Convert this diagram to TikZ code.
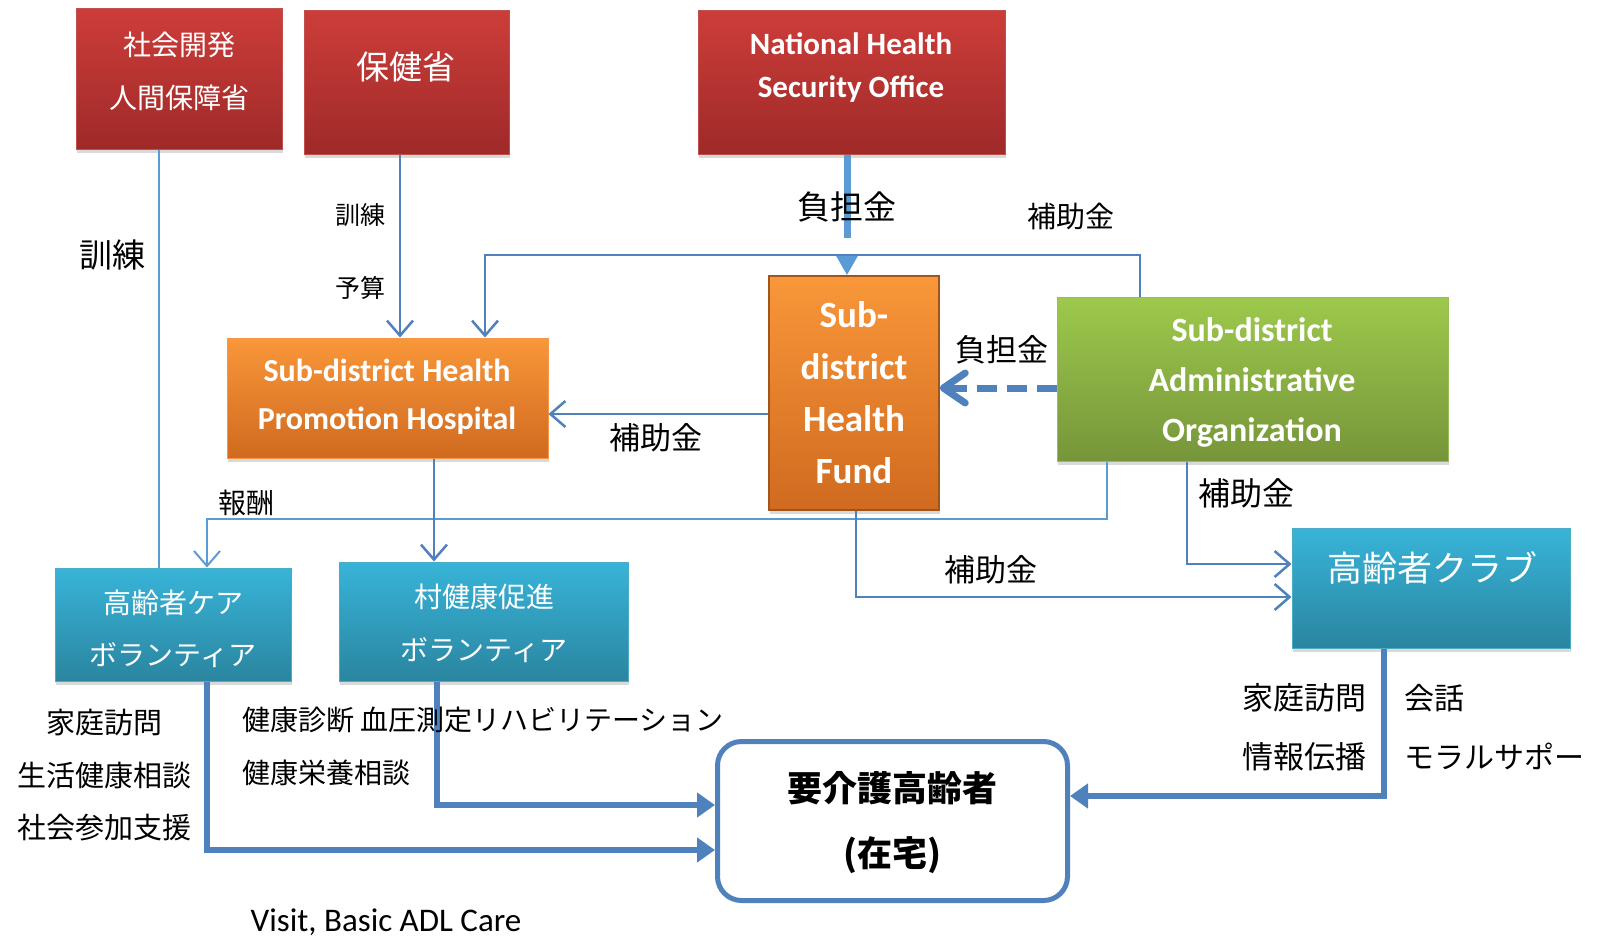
\documentclass[tikz,border=0pt]{standalone}
\usepackage{fontspec}
\setmainfont{Carlito}
\newfontfamily\jp{Noto Sans CJK JP}
\usetikzlibrary{positioning}
\usetikzlibrary{arrows.meta}
\usetikzlibrary{shadows}
\usepackage{xcolor}
\definecolor{redtop}{HTML}{CD3D3A}
\definecolor{redbot}{HTML}{9E2A28}
\definecolor{redline}{HTML}{C0504D}
\definecolor{orgtop}{HTML}{F9973A}
\definecolor{orgbot}{HTML}{D06A1F}
\definecolor{orgline}{HTML}{F79646}
\definecolor{fundline}{HTML}{A0561B}
\definecolor{grntop}{HTML}{9DC94C}
\definecolor{grnbot}{HTML}{76953A}
\definecolor{grnline}{HTML}{9BBB59}
\definecolor{teltop}{HTML}{38B4D8}
\definecolor{telbot}{HTML}{2A85A0}
\definecolor{telline}{HTML}{4BACC6}
\definecolor{lineblue}{HTML}{4F81BD}
\definecolor{lightblue}{HTML}{5B9BD5}

\begin{document}
\begin{tikzpicture}[x=1pt,y=-1pt,
box/.style={rectangle, inner sep=0pt, line width=1pt, drop shadow={opacity=0.3, shadow xshift=1pt, shadow yshift=-4pt}},
redbox/.style={box, top color=redtop, bottom color=redbot, draw=redline},
orangebox/.style={box, top color=orgtop, bottom color=orgbot, draw=orgline},
fundbox/.style={box, top color=orgtop, bottom color=orgbot, draw=fundline, line width=1.5pt},
greenbox/.style={box, top color=grntop, bottom color=grnbot, draw=grnline},
tealbox/.style={box, top color=teltop, bottom color=telbot, draw=telline},
boxtext/.style={inner sep=0pt, align=center, text=white},
lab/.style={inner sep=0pt, align=center, font=\jp\fontsize{#1}{#1}\selectfont},
labs/.style 2 args={inner sep=0pt, font=\jp\fontsize{#1}{#2}\selectfont},
conn/.style={draw=lineblue, line width=2.5pt},
connarrow/.style={conn, -{Straight Barb[length=15pt,width=26pt]}},
fatarrow/.style={draw=lineblue, line width=6pt, -{Triangle[length=18pt,width=24pt]}}]
\useasboundingbox (0,0) rectangle (1601,937);

% ministries
\node[redbox, minimum width=206pt, minimum height=141pt] (msdhs) at (179,78.5) {};
\node[boxtext, font=\jp\fontsize{28}{53}\selectfont] (msdhs-t) at (179,71.5) {社会開発\\人間保障省};
\node[redbox, minimum width=205pt, minimum height=144pt] (moph) at (406.5,82) {};
\node[boxtext, font=\jp\fontsize{33}{33}\selectfont] (moph-t) at (406,67) {保健省};
\node[redbox, minimum width=307pt, minimum height=144pt] (nhso) at (851.5,82) {};
\node[boxtext, font=\bfseries\fontsize{31}{43}\selectfont] (nhso-t) at (851,68) {National Health\\Security Office};

% sub-district level
\node[orangebox, minimum width=321pt, minimum height=120pt] (shph) at (387.5,398) {};
\node[boxtext, font=\bfseries\fontsize{32}{48}\selectfont] (shph-t) at (387,397) {Sub-district Health\\Promotion Hospital};
\node[fundbox, minimum width=170pt, minimum height=234pt] (fund) at (854,393) {};
\node[boxtext, font=\bfseries\fontsize{37}{52}\selectfont] (fund-t) at (854,393) {Sub-\\district\\Health\\Fund};
\node[greenbox, minimum width=391pt, minimum height=164pt] (sao) at (1252.5,379) {};
\node[boxtext, font=\bfseries\fontsize{34}{50}\selectfont] (sao-t) at (1252,382.5) {Sub-district\\Administrative\\Organization};

% volunteers and club
\node[tealbox, minimum width=236pt, minimum height=113pt] (ecv) at (173,624.5) {};
\node[boxtext, font=\jp\fontsize{28}{52}\selectfont] (ecv-t) at (173,629) {高齢者ケア\\ボランティア};
\node[tealbox, minimum width=289pt, minimum height=119pt] (vhv) at (483.5,621.5) {};
\node[boxtext, font=\jp\fontsize{28}{53}\selectfont] (vhv-t) at (484,623.5) {村健康促進\\ボランティア};
\node[tealbox, minimum width=278pt, minimum height=120pt] (club) at (1431,588) {};
\node[boxtext, font=\jp\fontsize{35}{35}\selectfont] (club-t) at (1432,568) {高齢者クラブ};

% elderly at home
\node[draw=lineblue, line width=5pt, rounded corners=24pt, fill=white, minimum width=350pt, minimum height=159pt, inner sep=0pt] (elder) at (892.5,821) {};
\node[labs={35}{65}, align=center] (elder-t) at (892,823) {\bfseries 要介護高齢者\\\bfseries (在宅)};

% funding and training flows
\draw[conn, draw=lightblue] (msdhs.south -| 159,0) -- (ecv.north -| 159,0);
\draw[connarrow] (moph.south -| 400,0) -- (shph.north -| 400,0);
\draw[draw=lightblue, line width=7pt, dash pattern=on 83pt off 60pt, -{Triangle[length=21pt,width=22pt]}] (nhso.south -| 847,0) -- (fund.north -| 847,0);
\draw[connarrow] (sao.north -| 1140,0) |- (485,255) -- (shph.north -| 485,0);
\draw[connarrow] (fund.west |- 0,414) -- (shph.east |- 0,414);
\draw[draw=lineblue, line width=7pt, dash pattern=on 20pt off 10pt, -{Straight Barb[length=22pt,width=30pt,round]}] (sao.west |- 0,388) -- (fund.east |- 0,388);
\draw[connarrow, draw=lightblue, line width=2pt] (sao.south -| 1107,0) |- (207,519) -- (ecv.north -| 207,0);
\draw[connarrow] (shph.south -| 434,0) -- (vhv.north -| 434,0);
\draw[connarrow] (fund.south -| 856,0) |- (club.west |- 0,597);
\draw[connarrow] (sao.south -| 1187,0) |- (club.west |- 0,564);

% care flows
\draw[fatarrow] (ecv.south -| 207,0) |- (elder.west |- 0,850);
\draw[fatarrow] (vhv.south -| 437,0) |- (elder.west |- 0,805);
\draw[fatarrow] (club.south -| 1384,0) |- (elder.east |- 0,796);

% labels
\node[lab=33] (l-train) at (112,255) {訓練};
\node[lab=25] (l-train2) at (360,215) {訓練};
\node[lab=25] (l-budget) at (360,288) {予算};
\node[lab=33] (l-nhso) at (847,207) {負担金};
\node[lab=29] (l-sub1) at (1071,216) {補助金};
\node[lab=31] (l-sub2) at (656,438) {補助金};
\node[lab=31] (l-share) at (1002,350) {負担金};
\node[lab=28] (l-pay) at (246,503) {報酬};
\node[lab=31] (l-sub3) at (991,570) {補助金};
\node[lab=32] (l-sub4) at (1246,493) {補助金};
\node[labs={29}{52.5}, align=center] (l-ecv) at (104,775.5) {家庭訪問\\生活健康相談\\社会参加支援};
\node[labs={28}{53}, align=left, anchor=west] (l-vhv) at (242,746.5) {健康診断 血圧測定リハビリテーション\\健康栄養相談};
\node[labs={31}{59}, align=right, anchor=east] (l-club1) at (1367,727.5) {家庭訪問\\情報伝播};
\node[labs={30}{59}, align=left, anchor=west] (l-club2) at (1404,727.5) {会話\\モラルサポー};
\node[inner sep=0pt, font=\fontsize{33}{33}\selectfont] (l-visit) at (386,922) {Visit, Basic ADL Care};
\end{tikzpicture}
\end{document}
